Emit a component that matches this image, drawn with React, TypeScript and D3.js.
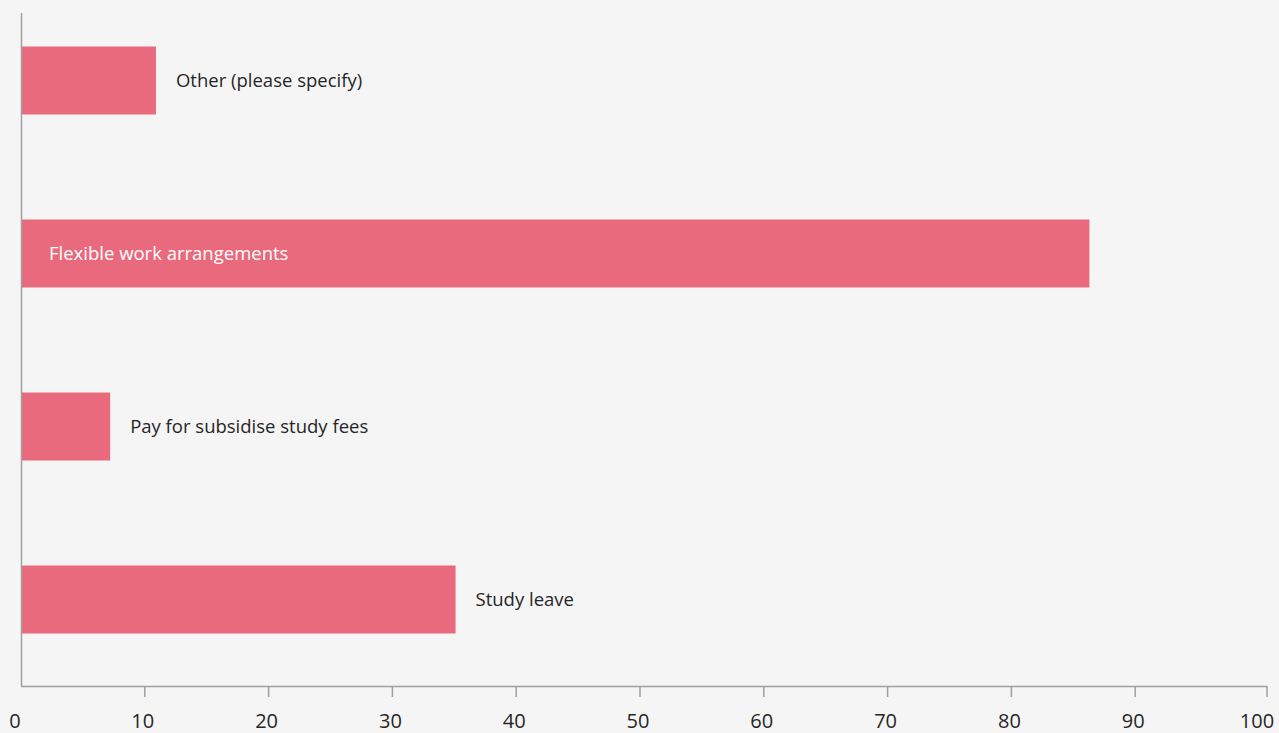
import React from "react";
import * as d3 from "d3";

const categories = ["Other (please specify)", "Flexible work arrangements", "Pay for subsidise study fees", "Study leave"];
const values = [10.9, 86.3, 7.2, 35.1];
const labelInside = [false, true, false, false];
const tickValues = [0, 10, 20, 30, 40, 50, 60, 70, 80, 90, 100];

const W = 1279;
const H = 733;

export default function App() {
  const x = d3.scaleLinear().domain([0, 100]).range([21, 1259]);
  const y = d3
    .scaleBand<string>()
    .domain(categories)
    .range([-6, 686])
    .paddingInner(0.607)
    .paddingOuter(0.3035);
  const axisY = 686;
  const axisEnd = 1267;
  const font = "'Open Sans', sans-serif";
  return (
    <svg
      width={W}
      height={H}
      style={{ position: "fixed", left: 0, top: 0, background: "#f5f5f5" }}
    >
      <rect x={0} y={0} width={W} height={H} fill="#f5f5f5" />
      {categories.map((c, i) => {
        const y0 = y(c)!;
        const bw = y.bandwidth();
        const xe = x(values[i]);
        const cy = y0 + bw / 2;
        return (
          <g key={c}>
            <rect x={x(0)} y={y0} width={xe - x(0)} height={bw} fill="#e86a7c" />
            <text
              x={labelInside[i] ? x(0) + 28 : xe + 20}
              y={cy}
              dy="0.36em"
              fontFamily={font}
              fontSize={18.5}
              fill={labelInside[i] ? "#ffffff" : "#262626"}
            >
              {c}
            </text>
          </g>
        );
      })}
      <line x1={x(0) + 0.5} x2={x(0) + 0.5} y1={13} y2={axisY} stroke="#a0a0a0" strokeWidth={1.5} />
      <line x1={x(0)} x2={axisEnd} y1={axisY + 0.5} y2={axisY + 0.5} stroke="#a0a0a0" strokeWidth={1.5} />
      {tickValues.map((t) => (
        <g key={t}>
          {t > 0 && t < 100 && (
            <line x1={x(t)} x2={x(t)} y1={axisY} y2={axisY + 11} stroke="#a0a0a0" strokeWidth={1.5} />
          )}
          <text
            x={t === 0 ? x(t) - 6 : x(t) - 2}
            y={728}
            textAnchor="middle"
            fontFamily={font}
            fontSize={20}
            fill="#262626"
          >
            {t}
          </text>
        </g>
      ))}
      <line x1={axisEnd} x2={axisEnd} y1={axisY} y2={axisY + 11} stroke="#a0a0a0" strokeWidth={1.5} />
    </svg>
  );
}
